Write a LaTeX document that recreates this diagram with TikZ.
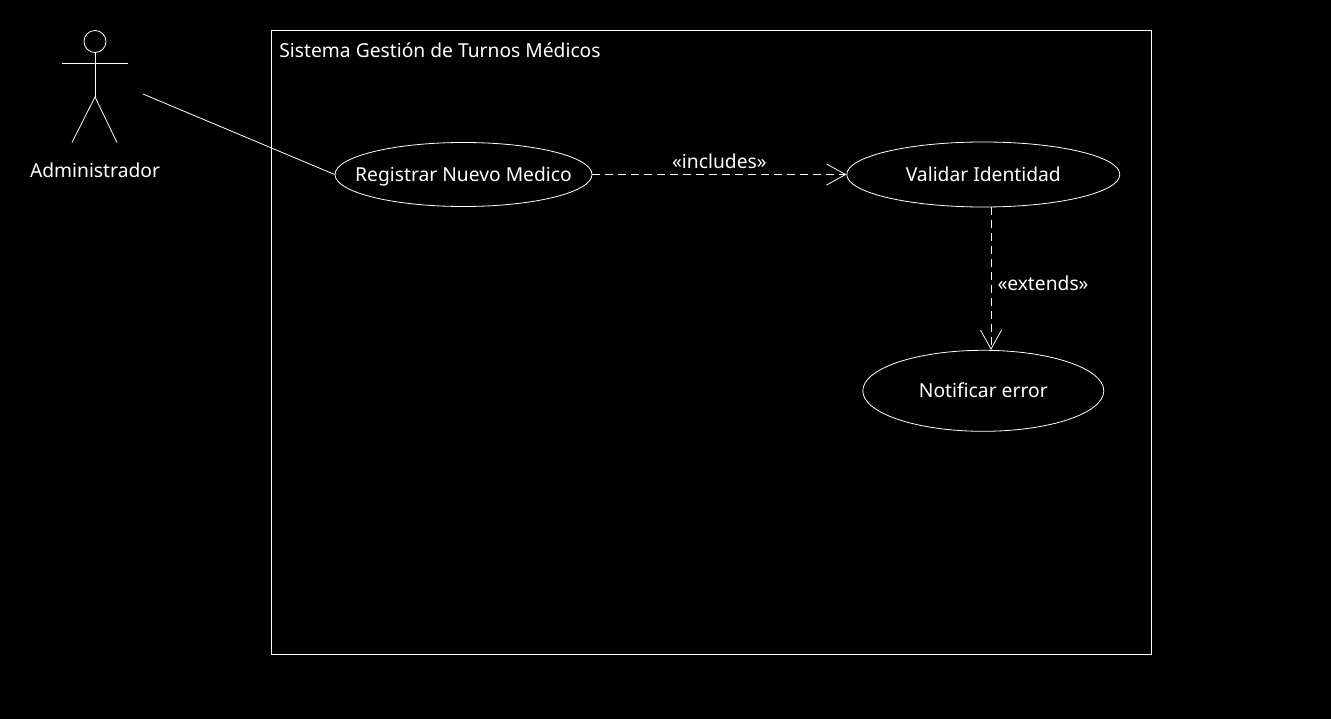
\documentclass[tikz,border=0pt]{standalone}
\usepackage{fontspec}
\setmainfont{Noto Sans}
\usetikzlibrary{positioning}
\usetikzlibrary{shapes.geometric}
\usetikzlibrary{arrows.meta}
\newcommand{\etiqueta}[1]{\makebox[0pt]{\raisebox{-6.8pt}[0pt][0pt]{#1}}}
\begin{document}
\begin{tikzpicture}[x=1pt,y=-1pt,line width=0.8pt,color=white]
\tikzset{usecase/.style={draw,ellipse,inner sep=0pt,fill=black,text=white,font=\fontsize{19.25}{23}\selectfont}}
\tikzset{caption/.style={inner sep=0pt,text=white,font=\fontsize{19.25}{23}\selectfont}}
\tikzset{relation/.style={draw,dash pattern=on 8pt off 5pt,-{Straight Barb[length=19pt,width=21pt,line width=0.8pt]}}}
    \fill[black] (0,0) rectangle (1331,719);
    \useasboundingbox (0,0) rectangle (1331,719);
        \node[draw,minimum width=880pt,minimum height=624pt,inner sep=0pt] (sistema) at (711.5,342.5) {};
        \node[caption,anchor=west] (titulo) at (279,50) {Sistema Gestión de Turnos Médicos};
        \node[usecase,minimum width=257pt,minimum height=64pt] (registrar) at (463.5,174.5) {\etiqueta{Registrar Nuevo Medico}};
        \node[usecase,minimum width=273pt,minimum height=65pt,right=254pt of registrar] (validar) {\etiqueta{Validar Identidad}};
        \node[usecase,minimum width=241pt,minimum height=81pt,below=142.5pt of validar] (notificar) {\etiqueta{Notificar error}};
        % actor
        \node[draw,circle,minimum size=22pt,inner sep=0pt] (cabeza) at (95,41.5) {};
        \coordinate (cadera) at (95,97);
        \coordinate (brazoi) at (62,63);
        \coordinate (brazod) at (128,63);
        \coordinate (piei) at (72,142.5);
        \coordinate (pied) at (117,142.5);
        \coordinate (actor) at (143,94);
        \coordinate (guia) at (991,0);
            \path[draw] (cabeza) -- (cadera);
            \path[draw] (brazoi) -- (brazod);
            \path[draw] (piei) -- (cadera) -- (pied);
        \node[caption] (administrador) at (95,170) {Administrador};
            \path[draw] (actor) -- (registrar.west);
            \path[relation] (registrar) -- node[caption,above=5pt] (includes) {«includes»} (validar);
            \path[relation] (guia |- validar.south) -- (guia |- notificar.north);
        \node[caption] (extends) at (1043,283) {«extends»};
\end{tikzpicture}
\end{document}
